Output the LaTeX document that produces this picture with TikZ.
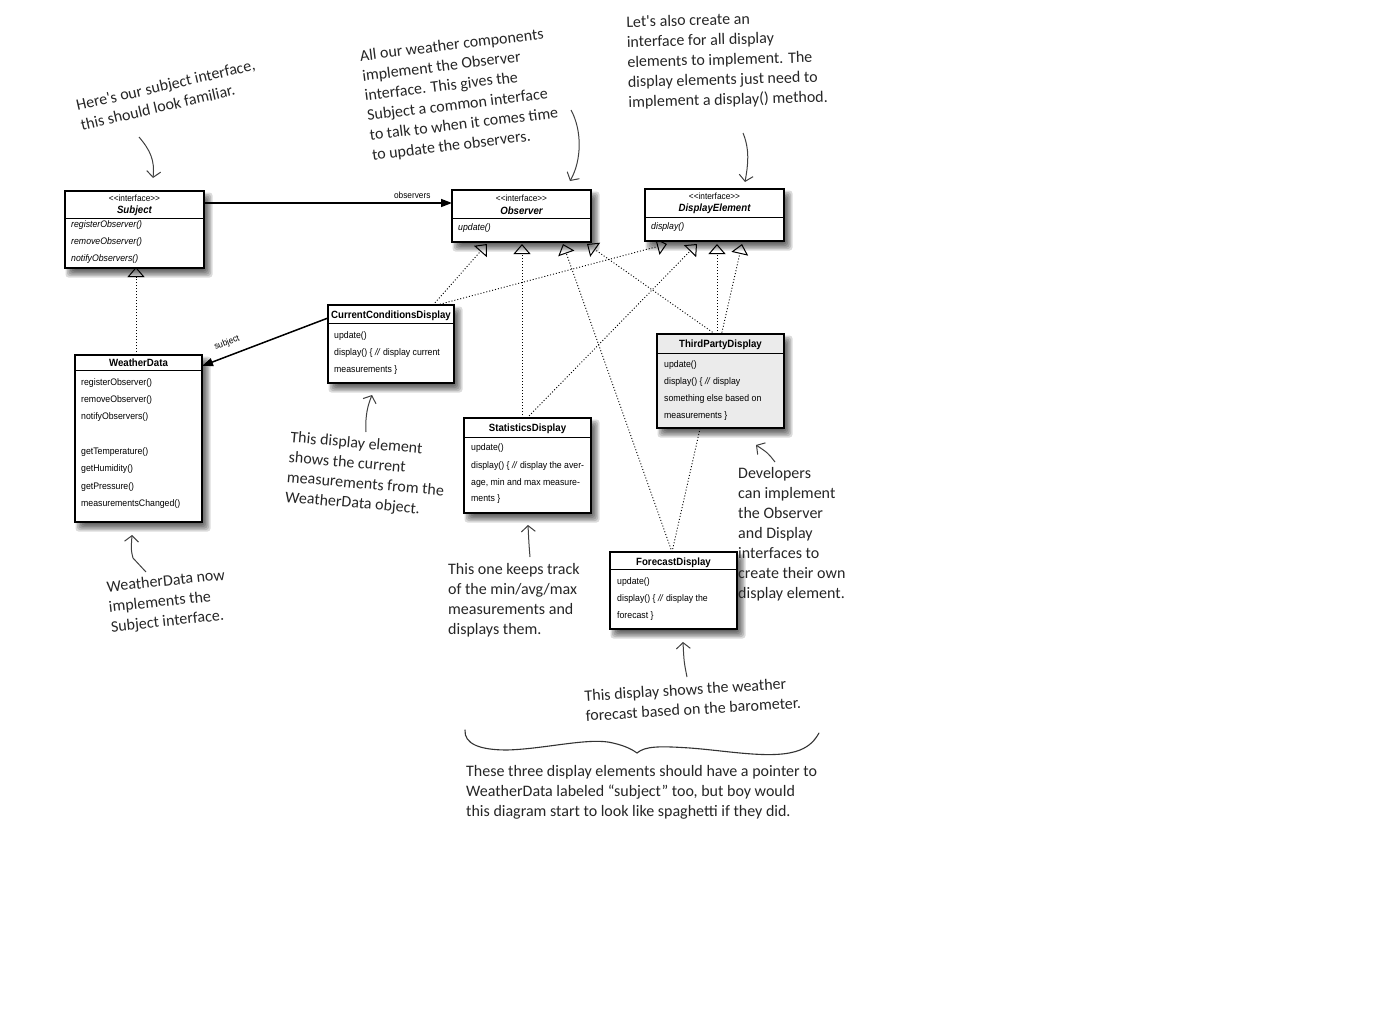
\documentclass[tikz,border=0pt]{standalone}
\usepackage{fontspec}
\usetikzlibrary{arrows.meta,backgrounds}
\newfontfamily\umlf[FakeStretch=0.92]{Liberation Sans}
\newfontfamily\notef{Carlito}
\pgfdeclarelayer{paper}
\pgfsetlayers{paper,background,main}

\tikzset{
  cls/.style={draw=black, line width=1.1pt, fill=white, inner sep=0pt, outer sep=0pt},
  sep/.style={line width=0.9pt},
  mth/.style={anchor=west, inner sep=0pt, font=\umlf\fontsize{9.5}{11}\selectfont},
  imth/.style={anchor=west, inner sep=0pt, font=\umlf\itshape\fontsize{9.5}{11}\selectfont},
  ttl/.style={inner sep=0pt, font=\umlf\bfseries\fontsize{10.5}{12}\selectfont},
  ittl/.style={inner sep=0pt, font=\umlf\bfseries\itshape\fontsize{10.5}{12}\selectfont},
  stereo/.style={inner sep=0pt, font=\umlf\fontsize{9}{10}\selectfont},
  lbl/.style={inner sep=0pt, font=\umlf\fontsize{9}{11}\selectfont},
  real/.style={line width=0.9pt, dash pattern=on 1pt off 2pt,
    -{Triangle[open,length=10pt,width=17pt,line width=1pt]}},
  assoc/.style={line width=1.5pt, -{Triangle[length=11pt,width=8pt]}},
  note/.style={inner sep=0pt, align=left, text=black!85, font=\notef\fontsize{16}{20}\selectfont},
  hand/.style={draw=black!75, line width=1pt, -{Straight Barb[length=6pt,width=14pt]}},
  shadowlayer/.style={fill=black, opacity=0.14, rounded corners=3pt},
}

% soft drop shadow below and to the right of a box node
\newcommand\boxshadow[1]{%
  \foreach \ax/\ay/\bx/\by in {8/9/1/2, 6.5/7.5/2.5/3.5, 5/6/4/5, 3.5/4.5/5.5/6.5, 2/3/7/8, 0.5/1.5/8.5/9.5}{%
    \fill[shadowlayer] ([shift={(\ax,\ay)}]#1.north west) rectangle ([shift={(\bx,\by)}]#1.south east);
  }%
}

\begin{document}
\begin{tikzpicture}[x=1pt,y=-1pt]
\useasboundingbox (0,0) rectangle (1393,1009);
\begin{pgfonlayer}{paper}
  \fill[white] (0,0) rectangle (1393,1009);
\end{pgfonlayer}

% ---------- interfaces ----------
\node[cls, minimum width=139pt, minimum height=77pt] (subject) at (134.5,229.5) {};
\draw[sep] (65,218) -- (204,218);
\node[stereo] (subjectst) at (134.5,198) {<<interface>>};
\node[ittl] (subjectnm) at (134.5,211) {Subject};
\node[imth] (subm1) at (71,225) {registerObserver()};
\node[imth] (subm2) at (71,242) {removeObserver()};
\node[imth] (subm3) at (71,259) {notifyObservers()};

\node[cls, minimum width=139pt, minimum height=52pt] (observer) at (521.5,216) {};
\draw[sep] (452,218) -- (591,218);
\node[stereo] (obsst) at (521.5,198) {<<interface>>};
\node[ittl] (obsnm) at (521.5,211) {Observer};
\node[imth] (obsm1) at (458,228) {update()};

\node[cls, minimum width=139pt, minimum height=52pt] (display) at (714.5,215) {};
\draw[sep] (645,217) -- (784,217);
\node[stereo] (dispst) at (714.5,196) {<<interface>>};
\node[ittl] (dispnm) at (714.5,209) {DisplayElement};
\node[imth] (dispm1) at (651,227) {display()};

% ---------- classes ----------
\node[cls, minimum width=127pt, minimum height=167pt] (weather) at (138.5,438.5) {};
\draw[sep] (75,370) -- (202,370);
\node[ttl] (weathernm) at (138.5,363) {WeatherData};
\node[mth] (wm1) at (81,383) {registerObserver()};
\node[mth] (wm2) at (81,400) {removeObserver()};
\node[mth] (wm3) at (81,417) {notifyObservers()};
\node[mth] (wm4) at (81,452) {getTemperature()};
\node[mth] (wm5) at (81,469) {getHumidity()};
\node[mth] (wm6) at (81,487) {getPressure()};
\node[mth] (wm7) at (81,504) {measurementsChanged()};

\node[cls, minimum width=126pt, minimum height=78pt] (ccd) at (391,344) {};
\draw[sep] (328,323) -- (454,323);
\node[ttl] (ccdnm) at (391,316) {CurrentConditionsDisplay};
\node[mth] (ccdm1) at (334,336) {update()};
\node[mth] (ccdm2) at (334,353) {display() \{ \textit{//} display current};
\node[mth] (ccdm3) at (334,370) {measurements \}};

\node[cls, minimum width=127pt, minimum height=95pt] (stats) at (527.5,465.5) {};
\draw[sep] (464,437) -- (591,437);
\node[ttl] (statsnm) at (527.5,429) {StatisticsDisplay};
\node[mth] (statm1) at (471,448) {update()};
\node[mth] (statm2) at (471,466) {display() \{ \textit{//} display the aver-};
\node[mth] (statm3) at (471,483) {age, min and max measure-};
\node[mth] (statm4) at (471,499) {ments \}};

\node[cls, fill=black!8, minimum width=127pt, minimum height=94pt] (third) at (720.5,381) {};
\draw[sep] (657,353) -- (784,353);
\node[ttl] (thirdnm) at (720.5,345) {ThirdPartyDisplay};
\node[mth] (thm1) at (664,365) {update()};
\node[mth] (thm2) at (664,382) {display() \{ \textit{//} display};
\node[mth] (thm3) at (664,399) {something else based on};
\node[mth] (thm4) at (664,416) {measurements \}};

\node[cls, minimum width=127pt, minimum height=77pt] (forecast) at (673.5,590.5) {};
\draw[sep] (610,569) -- (737,569);
\node[ttl] (forecastnm) at (673.5,563) {ForecastDisplay};
\node[mth] (fcm1) at (617,582) {update()};
\node[mth] (fcm2) at (617,599) {display() \{ \textit{//} display the};
\node[mth] (fcm3) at (617,616) {forecast \}};

% ---------- shadows and relations (underneath the boxes) ----------
\begin{pgfonlayer}{background}
  \boxshadow{subject}
  \boxshadow{observer}
  \boxshadow{display}
  \boxshadow{weather}
  \boxshadow{ccd}
  \boxshadow{stats}
  \boxshadow{third}
  \boxshadow{forecast}
  % realizations of Subject, Observer and DisplayElement
  \draw[real] ([xshift=-2.5pt]weather.north) -- ([xshift=1.5pt,yshift=1pt]subject.south);
  \draw[real] ([xshift=42pt]ccd.north) -- ([xshift=-34.5pt,yshift=-2pt]observer.south);
  \draw[real] ([xshift=46pt]ccd.north) -- ([xshift=-47.5pt,yshift=-3pt]display.south);
  \draw[real] ([xshift=-5.5pt]stats.north) -- ([xshift=0.5pt,yshift=-2pt]observer.south);
  \draw[real] ([xshift=-0.5pt]stats.north) -- ([xshift=-17.5pt,yshift=-3pt]display.south);
  \draw[real] ([xshift=-5.5pt]third.north) -- ([xshift=65.5pt,yshift=-2pt]observer.south);
  \draw[real] ([xshift=-3.5pt]third.north) -- ([xshift=2.5pt,yshift=-3pt]display.south);
  \draw[real] ([xshift=-1.5pt]forecast.north) -- ([xshift=41.5pt,yshift=-2pt]observer.south);
  \draw[real] ([xshift=-1.5pt]forecast.north) -- ([xshift=27.5pt,yshift=-3pt]display.south);
\end{pgfonlayer}

% associations
\draw[assoc] ([yshift=26.5pt]subject.east) -- node[lbl, pos=0.84, above=4pt] (obslbl) {observers} ([yshift=13pt]observer.west);
\draw[assoc] ([yshift=26pt]ccd.west) -- ([yshift=72.5pt]weather.east);
\node[lbl, rotate=21] (subjlbl) at (227,343) {subject};

% ---------- handwritten notes ----------
\node[note, rotate=13, anchor=north west] (note1) at (75,100)
  {Here's our subject interface,\\this should look familiar.};
\coordinate (n1a) at (139,137);
\coordinate (n1b) at (153,178);
\draw[hand] (n1a) .. controls (150,150) and (155,160) .. (n1b);

\node[note, rotate=7, anchor=north west] (note2) at (359,50)
  {All our weather components\\implement the Observer\\interface. This gives the\\Subject a common interface\\to talk to when it comes time\\to update the observers.};
\coordinate (n2a) at (571,110);
\coordinate (n2b) at (570,181);
\draw[hand] (n2a) .. controls (582,130) and (582,160) .. (n2b);

\node[note, rotate=1.5, anchor=north west] (note3) at (626,16)
  {Let's also create an\\interface for all display\\elements to implement. The\\display elements just need to\\implement a display() method.};
\coordinate (n3a) at (743,133);
\coordinate (n3b) at (745,182);
\draw[hand] (n3a) .. controls (750,150) and (748,165) .. (n3b);

\node[note, rotate=-5, anchor=north west] (note4) at (291,431)
  {This display element\\shows the current\\measurements from the\\WeatherData object.};
\coordinate (n4a) at (366,432);
\coordinate (n4b) at (372,395);
\draw[hand] (n4a) .. controls (365,415) and (368,405) .. (n4b);

\node[note, rotate=6, anchor=north west] (note5) at (106,581)
  {WeatherData now\\implements the\\Subject interface.};
\coordinate (n5a) at (146,572);
\coordinate (n5m) at (133,558);
\coordinate (n5b) at (132,535);
\draw[hand] (n5a) -- (n5m) .. controls (131,550) .. (n5b);

\node[note, anchor=north west] (note6) at (448,563)
  {This one keeps track\\of the min/avg/max\\measurements and\\displays them.};
\coordinate (n6a) at (530,557);
\coordinate (n6b) at (528,525);
\draw[hand] (n6a) .. controls (529,545) .. (n6b);

\node[note, anchor=north west] (note7) at (738,467)
  {Developers\\can implement\\the Observer\\and Display\\interfaces to\\create their own\\display element.};
\coordinate (n7a) at (775,462);
\coordinate (n7b) at (756,445);
\draw[hand] (n7a) .. controls (768,453) .. (n7b);

\node[note, rotate=3.5, anchor=north west] (note8) at (584,690)
  {This display shows the weather\\forecast based on the barometer.};
\coordinate (n8a) at (687,677);
\coordinate (n8b) at (683,642);
\draw[hand] (n8a) .. controls (684,662) .. (n8b);

% curly brace over the closing remark
\draw[black!80, line width=1.1pt, line cap=round]
  (465,730) .. controls (464,744) and (480,750) .. (507,750)
  .. controls (545,749) and (590,737) .. (613,743)
  .. controls (626,746) and (633,750) .. (637,753)
  .. controls (645,746) and (660,746) .. (690,748)
  .. controls (730,751) and (775,760) .. (800,750)
  .. controls (810,746) and (815,740) .. (819,733);

\node[note, anchor=north west] (note9) at (466,765)
  {These three display elements should have a pointer to\\WeatherData labeled “subject” too, but boy would\\this diagram start to look like spaghetti if they did.};
\end{tikzpicture}
\end{document}
